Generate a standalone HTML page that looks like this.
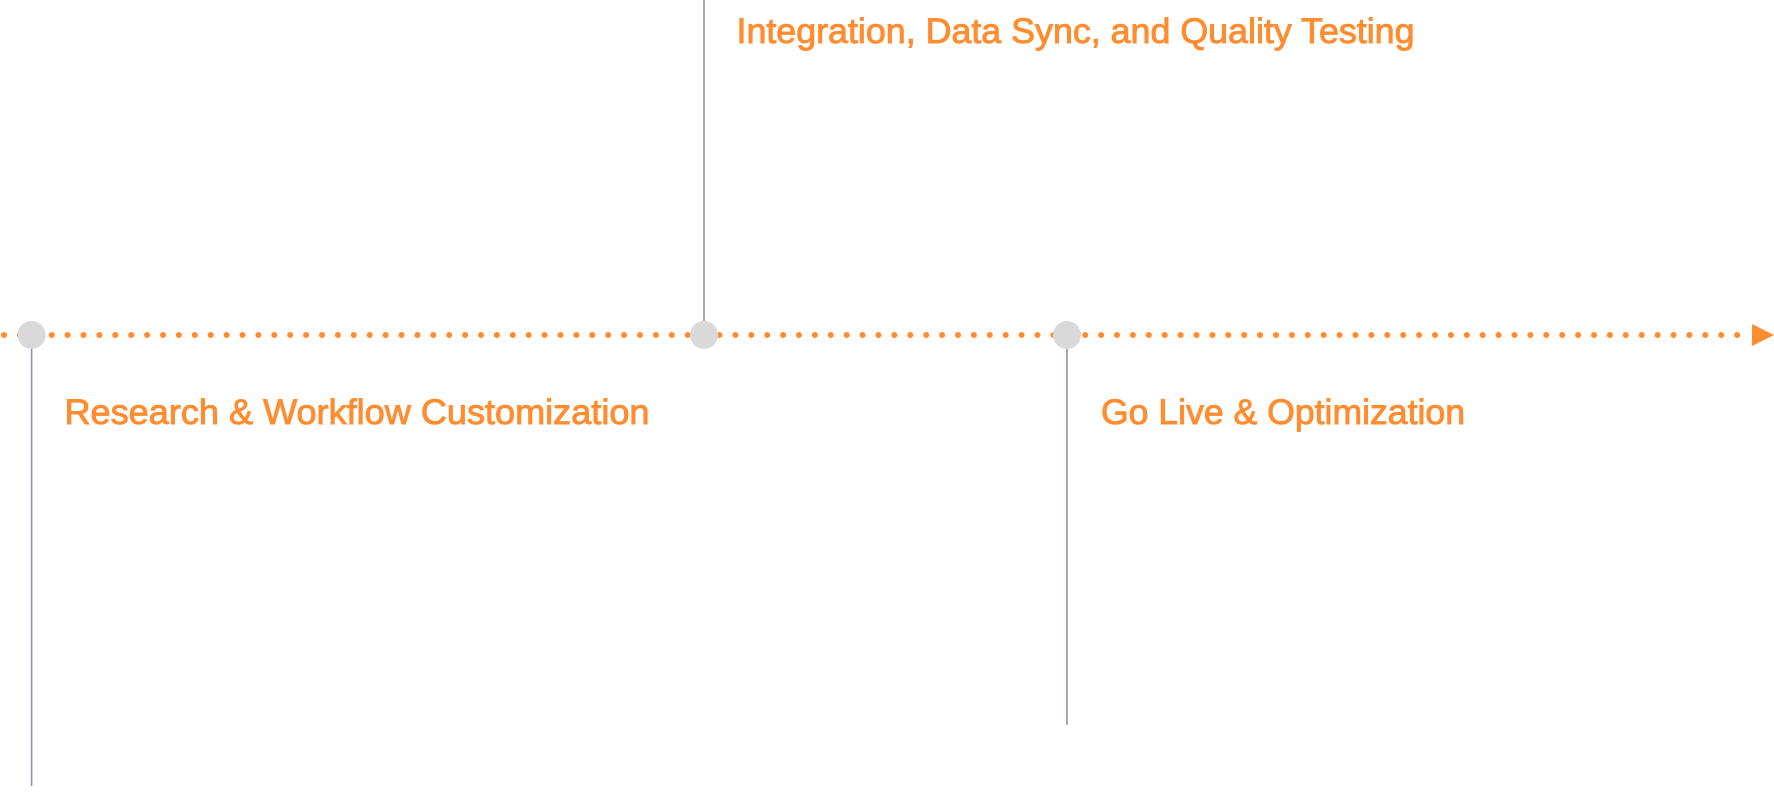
<!DOCTYPE html>
<html><head><meta charset="utf-8"><style>html,body{margin:0;padding:0;background:#fff}svg{display:block}</style></head>
<body>
<svg width="1774" height="792" viewBox="0 0 1774 792" xmlns="http://www.w3.org/2000/svg">
<rect width="1774" height="792" fill="#fff"/>
<line x1="4" y1="335" x2="1748" y2="335" stroke="#FF8C2E" stroke-width="6" stroke-linecap="round" stroke-dasharray="0 15.9"/>
<polygon points="1752,324 1774,335 1752,346" fill="#FF8C2E"/>
<g stroke="#8A93B0" stroke-width="1.6">
<line x1="31.6" y1="335" x2="31.6" y2="786"/>
<line x1="704" y1="0" x2="704" y2="335"/>
<line x1="1067" y1="335" x2="1067" y2="725"/>
</g>
<g fill="#D9D9D9">
<circle cx="31.6" cy="335" r="14"/>
<circle cx="704" cy="335" r="14"/>
<circle cx="1067" cy="335" r="14"/>
</g>
<g fill="#FF8C2E" stroke="#FF8C2E" stroke-width="0.9" font-family="Liberation Sans, sans-serif" font-size="35">
<text x="64.5" y="424" textLength="585" lengthAdjust="spacingAndGlyphs">Research &amp; Workflow Customization</text>
<text x="1101" y="424" textLength="364" lengthAdjust="spacingAndGlyphs">Go Live &amp; Optimization</text>
<text x="736.5" y="43" textLength="678" lengthAdjust="spacingAndGlyphs">Integration, Data Sync, and Quality Testing</text>
</g>
</svg>
</body></html>
